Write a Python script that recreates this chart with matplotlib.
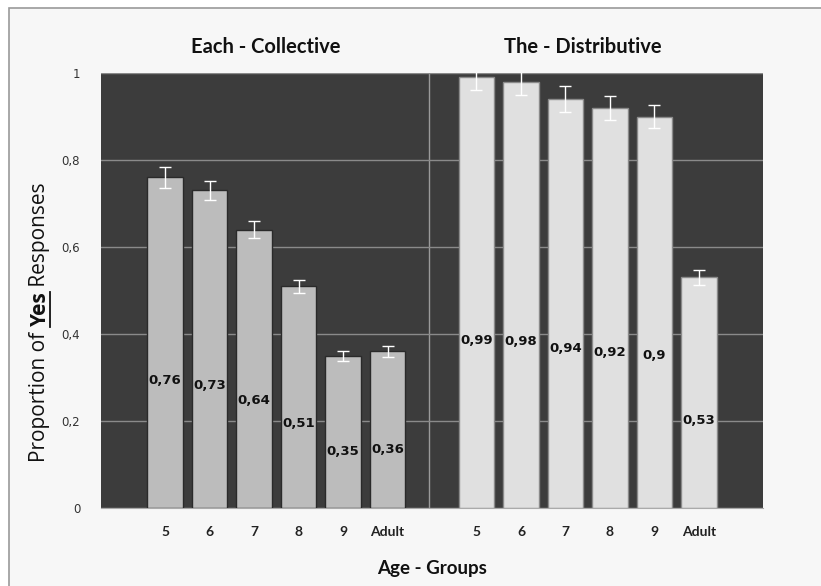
import numpy as np
import matplotlib.pyplot as plt
from matplotlib.patches import Rectangle
from matplotlib.lines import Line2D

# donnees
ages = ["5", "6", "7", "8", "9", "Adult"]
each_vals = [0.76, 0.73, 0.64, 0.51, 0.35, 0.36]
each_err = [0.024, 0.022, 0.02, 0.015, 0.012, 0.012]
the_vals = [0.99, 0.98, 0.94, 0.92, 0.90, 0.53]
the_err = [0.03, 0.03, 0.029, 0.027, 0.027, 0.017]
group_titles = ["Each - Collective", "The - Distributive"]

W, H = 821, 586
fig = plt.figure(figsize=(W/100, H/100), dpi=100, facecolor="white")
# fond du cadre (capture d'ecran)
fig.patches.append(Rectangle((9/W, -0.1), 1.2, 1 - 8/H + 0.1, transform=fig.transFigure,
                             facecolor="#f7f7f7", edgecolor="#9a9a9a", lw=1.2, zorder=-5))

ax = fig.add_axes([101/W, 1 - 508/H, (763-101)/W, (508-73)/H])
ax.set_facecolor("#3c3c3c")

x1 = np.arange(6)
x2 = np.arange(6) + 7
w = 0.8

ax.bar(x1, each_vals, w, color="#bcbcbc", edgecolor="#2a2a2a", lw=1, zorder=3)
ax.bar(x2, the_vals, w, color="#e0e0e0", edgecolor="#8a8a8a", lw=1, zorder=3)
ax.errorbar(x1, each_vals, yerr=each_err, fmt="none", ecolor="white", elinewidth=1,
            capsize=4, capthick=1, zorder=4)
ax.errorbar(x2, the_vals, yerr=the_err, fmt="none", ecolor="white", elinewidth=1,
            capsize=4, capthick=1, zorder=4)

def lab(v):
    return ("%g" % v).replace(".", ",")

for xs, vals in [(x1, each_vals), (x2, the_vals)]:
    for x, v in zip(xs, vals):
        ax.text(x, 0.4*v - 0.01, lab(v), ha="center", va="center", fontsize=9.5,
                fontweight="bold", color="#111111", zorder=5)

narrow = ["Lato", "DejaVu Sans"]

ax.set_xlim(-1.44, 13.44)
ax.set_ylim(0, 1)
ax.set_yticks(np.arange(0, 1.01, 0.2))
ax.set_yticklabels(["0", "0,2", "0,4", "0,6", "0,8", "1"], fontsize=8.5, color="#333333")
ax.set_xticks(list(x1) + list(x2))
ax.set_xticklabels(ages + ages, fontsize=10, fontweight="bold", color="#222222",
                   family=narrow)
ax.tick_params(length=0, pad=15)
ax.tick_params(axis="x", pad=13)
ax.grid(axis="y", color="#8a8a8a", lw=1, zorder=1)
ax.axvline(5.93, color="#9a9a9a", lw=1, zorder=1)
for s in ax.spines.values():
    s.set_visible(False)
ax.spines["bottom"].set_visible(True)
ax.spines["bottom"].set_color("#aaaaaa")

for xc, t in zip([2.27, 9.4], group_titles):
    ax.text(xc, 1.06, t, ha="center", va="center", fontsize=14.5, fontweight="bold",
            family=narrow, color="#111111")

ax.set_xlabel("Age - Groups", fontsize=13.5, fontweight="bold", labelpad=16,
              family=narrow, color="#111111")

# titre de l'axe y en trois morceaux (Yes en gras souligne)
r = fig.canvas.get_renderer()
parts = [("Proportion of ", "normal"), ("Yes", "bold"), (" Responses", "normal")]
yb = 462
xc = 40
for txt, fw in parts:
    t = fig.text(xc/W, 1 - yb/H, txt, rotation=90, ha="center", va="bottom",
                 fontsize=15, fontweight=fw, family=["Open Sans", "DejaVu Sans"],
                 color="#111111")
    bb = t.get_window_extent(r)
    if fw == "bold":
        fig.lines.append(Line2D([(xc + 10)/W]*2, [bb.y0/H, bb.y1/H],
                                transform=fig.transFigure, color="#111111", lw=1.3))
    yb -= bb.height

fig.savefig("out.png", dpi=100, facecolor=fig.get_facecolor())
